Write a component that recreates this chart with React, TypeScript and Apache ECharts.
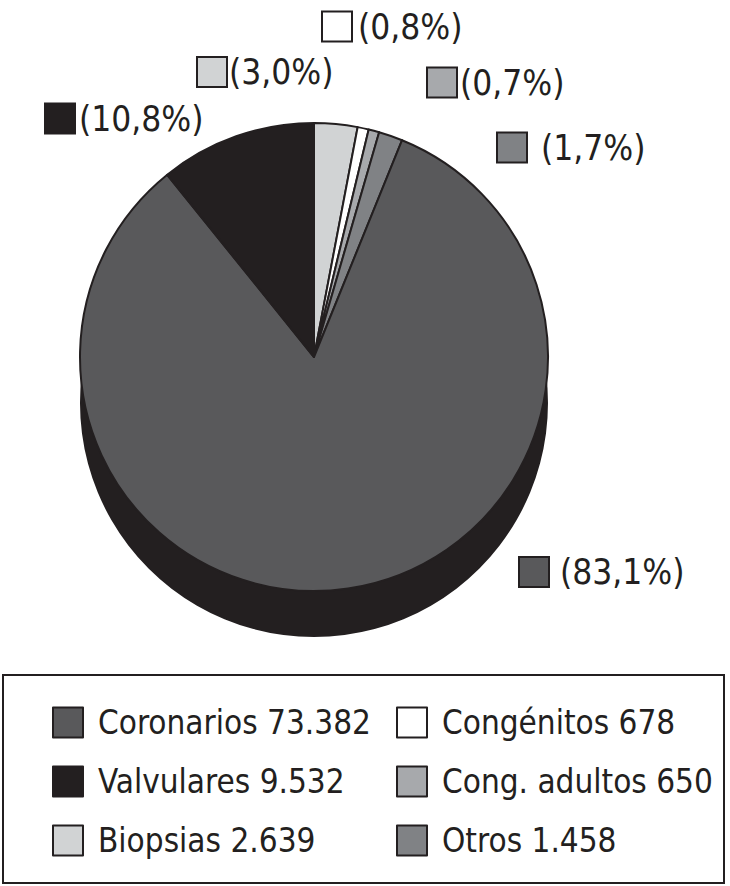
import React, { useEffect, useRef } from "react";
import * as echarts from "echarts";

// ---- data ----
const categories = ["Biopsias", "Congénitos", "Cong. adultos", "Otros", "Coronarios", "Valvulares"];
const values = [2639, 678, 650, 1458, 73382, 9532];
const legendLeftColumn = ["Coronarios", "Valvulares", "Biopsias"];
const legendRightColumn = ["Congénitos", "Cong. adultos", "Otros"];

// ---- styles / layout ----
const COLORS = ["#d1d3d4", "#ffffff", "#a7a9ac", "#808285", "#59595b", "#231f20"];
const INK = "#231f20";
const FONT = "'Liberation Sans Narrow', 'Arial Narrow', 'DejaVu Sans Condensed', sans-serif";
// label anchor (left edge of marker, vertical centre) for each slice, in data order
const LABEL_POS: [number, number][] = [
  [198, 72],
  [323, 26.5],
  [428, 82.5],
  [498, 147.5],
  [520, 572],
  [46, 118.5],
];
const LABEL_GAP = [3, 7, 4, 15, 12, 5];

const total = values.reduce((a, b) => a + b, 0);
const fmtThousands = (v: number) => String(v).replace(/\B(?=(\d{3})+(?!\d))/g, ".");
const fmtPct = (v: number) => (v / total * 100).toFixed(1).replace(".", ",");
const valueOf = (name: string) => values[categories.indexOf(name)];

export default function App() {
  const ref = useRef<HTMLDivElement>(null);
  useEffect(() => {
    const chart = echarts.init(ref.current!, null, { renderer: "svg" });

    const rich: Record<string, any> = {
      t: { fontSize: 35, fontFamily: FONT, color: INK, lineHeight: 42 },
    };
    COLORS.forEach((c, i) => {
      rich["box" + i] = { width: 28, height: 28, backgroundColor: c, borderColor: INK, borderWidth: 2 };
      rich["g" + i] = { width: LABEL_GAP[i], height: 10 };
    });

    const legendBase = {
      orient: "vertical",
      top: 706,
      padding: 0,
      itemGap: 26,
      itemWidth: 30,
      itemHeight: 30,
      icon: "rect",
      selectedMode: false,
      itemStyle: { borderColor: INK, borderWidth: 2 },
      formatter: (name: string) => `{n|${name} ${fmtThousands(valueOf(name))}}`,
      textStyle: {
        rich: {
          n: { fontSize: 33, fontFamily: FONT, color: INK, padding: [0, 0, 0, 10], lineHeight: 40 },
        },
      },
    };

    chart.setOption({
      animation: false,
      backgroundColor: "#ffffff",
      legend: [
        { ...legendBase, left: 52, data: legendLeftColumn },
        { ...legendBase, left: 396, data: legendRightColumn },
      ],
      graphic: [
        {
          type: "rect",
          shape: { x: 3, y: 675, width: 721, height: 208 },
          style: { fill: "none", stroke: INK, lineWidth: 2 },
          silent: true,
        },
      ],
      series: [
        {
          type: "pie",
          name: "base",
          center: [314, 403],
          radius: 234,
          silent: true,
          label: { show: false },
          labelLine: { show: false },
          itemStyle: { color: INK, borderWidth: 0 },
          data: [{ name: "__base", value: total }],
        },
        {
          type: "pie",
          name: "main",
          center: [314, 357],
          radius: 234,
          startAngle: 90,
          clockwise: true,
          avoidLabelOverlap: false,
          itemStyle: { borderColor: INK, borderWidth: 2 },
          emphasis: { disabled: true },
          label: {
            show: true,
            position: "outside",
            formatter: (p: any) =>
              `{box${p.dataIndex}|}{g${p.dataIndex}|}{t|(${fmtPct(values[p.dataIndex])}%)}`,
            rich,
          },
          labelLine: { show: false },
          labelLayout: (p: any) => {
            const pos = LABEL_POS[p.dataIndex];
            return { x: pos[0], y: pos[1], align: "left", verticalAlign: "middle" };
          },
          data: categories.map((name, i) => ({
            name,
            value: values[i],
            itemStyle: { color: COLORS[i] },
          })),
        },
      ],
    });
    return () => chart.dispose();
  }, []);
  return (
    <div
      ref={ref}
      style={{ position: "absolute", left: 0, top: 0, width: 730, height: 886, background: "#fff" }}
    />
  );
}
